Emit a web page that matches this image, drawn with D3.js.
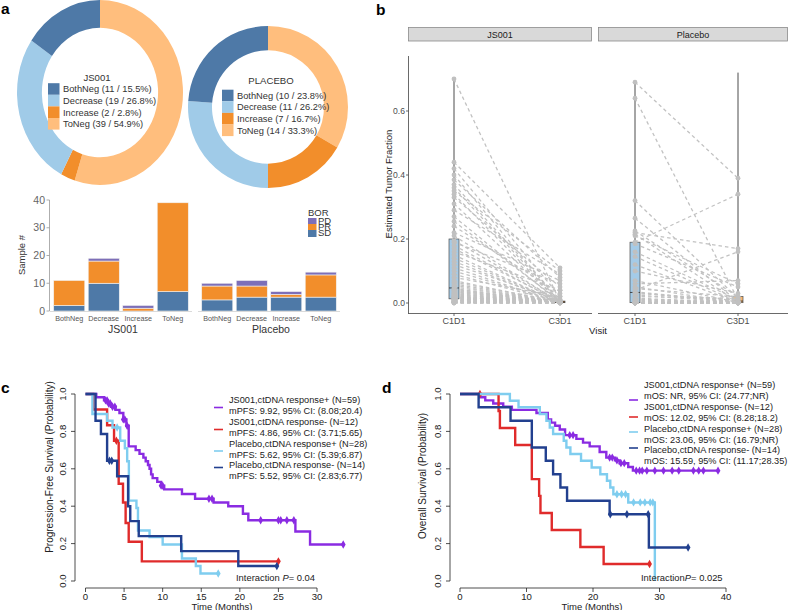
<!DOCTYPE html>
<html>
<head>
<meta charset="utf-8">
<script src="https://cdn.jsdelivr.net/npm/d3@7/dist/d3.min.js"></script>
<style>
html,body{margin:0;padding:0;background:#fff;}
svg{display:block;}
</style>
</head>
<body>
<svg id="fig" width="789" height="610"></svg>
<script>
// ================= DATA =================
// Panel a: donuts
const donutCategories = ["BothNeg","Decrease","Increase","ToNeg"];
const js001DonutCounts = [11,19,2,39];
const js001DonutPct = ["15.5%","26.8%","2.8%","54.9%"];
const placeboDonutCounts = [10,11,7,14];
const placeboDonutPct = ["23.8%","26.2%","16.7%","33.3%"];

// Panel a: stacked bars (BOR)
const barCategories = ["BothNeg","Decrease","Increase","ToNeg"];
const borKeys = ["SD","PR","PD"];
const js001SD = [2,10,0,7];
const js001PR = [9,8,1,32];
const js001PD = [0,1,1,0];
const placeboSD = [4,5,5,5];
const placeboPR = [5,4,1,8];
const placeboPD = [1,2,1,1];
const barYTicks = [0,10,20,30,40];
const barGroups = ["JS001","Placebo"];

// Panel b: paired tumor fraction
const visits = ["C1D1","C3D1"];
const js001C1D1 = [0.70,0.44,0.42,0.40,0.385,0.37,0.36,0.35,0.34,0.33,0.31,0.29,0.27,0.255,0.24,0.22,0.21,0.195,0.19,0.18,
  0.17,0.16,0.15,0.14,0.13,0.12,0.11,0.10,0.09,0.08,0.07,0.065,0.06,0.055,0.05,0.045,0.043,0.04,0.038,0.035,
  0.033,0.03,0.028,0.026,0.024,0.022,0.02,0.019,0.018,0.017,0.016,0.015,0.014,0.012,0.011,0.01,0.009,0.008,0.007,0.006,
  0.005,0.004,0.004,0.003,0.003,0.002,0.002,0.001,0.001,0.0,0.0];
const js001C3D1 = [0.005,0.11,0.02,0.003,0.08,0.01,0.004,0.10,0.002,0.05,0.003,0.09,0.001,0.006,0.03,0.07,0.002,0.004,0.06,0.002,
  0.005,0.04,0.001,0.003,0.002,0.008,0.001,0.003,0.002,0.02,0.001,0.004,0.002,0.001,0.003,0.002,0.001,0.003,0.002,0.001,
  0.004,0.002,0.001,0.003,0.002,0.001,0.004,0.002,0.001,0.003,0.002,0.001,0.002,0.001,0.003,0.002,0.001,0.002,0.001,0.001,
  0.04,0.002,0.001,0.001,0.002,0.001,0.0,0.0,0.0,0.0,0.012];
const placeboC1D1 = [0.69,0.64,0.32,0.265,0.225,0.22,0.215,0.21,0.19,0.185,0.16,0.145,0.12,0.10,0.07,0.06,0.05,0.045,0.04,0.035,
  0.033,0.03,0.025,0.02,0.015,0.012,0.01,0.008,0.005,0.003,0.002,0.001,0.001,0.0,0.0,0.0,0.0,0.0,0.0,0.0,0.0,0.0];
const placeboC3D1 = [0.39,0.01,0.015,0.005,0.02,0.17,0.003,0.06,0.34,0.05,0.01,0.004,0.002,0.03,0.002,0.07,0.001,0.02,0.16,0.003,
  0.001,0.01,0.002,0.015,0.001,0.003,0.0,0.002,0.001,0.0,0.005,0.0,0.002,0.0,0.001,0.0,0.01,0.0,0.002,0.0,0.001,0.0];
// box stats: [whisker low, q1, median, q3, whisker high]
const js001BoxC1D1 = [0,0.013,0.047,0.20,0.70];
const js001BoxC3D1 = [0,0.001,0.003,0.006,0.11];
const placeboBoxC1D1 = [0,0.001,0.033,0.19,0.69];
const placeboBoxC3D1 = [0,0.001,0.006,0.02,0.72];
const tfTicks = [0,0.2,0.4,0.6];

// Panel c: PFS Kaplan-Meier
const pfsJSposT = [0,1.4,2.4,2.9,3.3,3.9,4.4,4.9,5.3,5.6,6.5,7.0,7.5,7.8,8.1,8.3,8.5,8.7,9.3,9.8,10.2,12.5,14.2,16.6,18.5,20.4,21.1,27.2,29.1];
const pfsJSposS = [1,0.983,0.966,0.949,0.932,0.915,0.898,0.864,0.83,0.72,0.70,0.68,0.66,0.64,0.62,0.60,0.57,0.55,0.53,0.51,0.49,0.465,0.44,0.42,0.40,0.36,0.325,0.265,0.195];
const pfsJSposCens = [2.6,2.8,3.0,3.2,3.5,3.8,4.9,5.1,5.4,9.8,10.0,16.0,16.4,22.7,25.0,25.3,26.1,27.0,33.4];
const pfsJSposEnd = 33.4;
const pfsJSnegT = [0,1.0,2.8,3.7,4.3,4.86,5.2,5.6,7.3];
const pfsJSnegS = [1,0.917,0.833,0.75,0.52,0.42,0.31,0.21,0.105];
const pfsJSnegCens = [4.0,25.0];
const pfsJSnegEnd = 25.0;
const pfsPLposT = [0,0.9,2.8,3.5,4.5,5.1,5.4,5.62,6.6,6.8,8.3,10.0,12.5,14.3,14.9];
const pfsPLposS = [1,0.893,0.857,0.821,0.75,0.71,0.64,0.43,0.39,0.27,0.235,0.195,0.12,0.08,0.04];
const pfsPLposCens = [4.1,17.2];
const pfsPLposEnd = 17.2;
const pfsPLnegT = [0,1.3,2.0,2.8,4.1,5.52,5.8,6.9,12.4,19.8];
const pfsPLnegS = [1,0.857,0.786,0.643,0.56,0.40,0.32,0.24,0.16,0.08];
const pfsPLnegCens = [3.1,3.4,24.8];
const pfsPLnegEnd = 24.8;
const pfsXTicks = [0,5,10,15,20,25,30];
const pfsLegend = ["JS001,ctDNA response+ (N=59)","mPFS: 9.92, 95% CI: (8.08;20.4)",
  "JS001,ctDNA response- (N=12)","mPFS: 4.86, 95% CI: (3.71;5.65)",
  "Placebo,ctDNA response+ (N=28)","mPFS: 5.62, 95% CI: (5.39;6.87)",
  "Placebo,ctDNA response- (N=14)","mPFS: 5.52, 95% CI: (2.83;6.77)"];

// Panel d: OS Kaplan-Meier
const osJSposT = [0,3.0,3.8,5.0,6.5,7.8,11.5,13.2,13.7,14.3,15.0,15.8,17.5,18.5,19.5,21.0,22.0,23.3,24.0,25.3,26.0];
const osJSposS = [1,0.983,0.966,0.949,0.932,0.915,0.898,0.864,0.847,0.83,0.81,0.78,0.76,0.74,0.72,0.69,0.66,0.645,0.63,0.61,0.59];
const osJSposCens = [16.5,17.0,22.5,22.9,23.6,24.2,24.7,26.5,27.0,27.4,28.1,29.3,30.6,31.9,32.9,35.1,35.9,36.6,38.8];
const osJSposEnd = 38.8;
const osJSnegT = [0,5.8,6.0,8.3,10.8,11.9,12.1,13.8,18.1,21.6];
const osJSnegS = [1,0.909,0.818,0.727,0.545,0.455,0.364,0.273,0.182,0.091];
const osJSnegCens = [3.0,28.5];
const osJSnegEnd = 28.5;
const osPLposT = [0,7.5,8.8,12.0,13.0,13.5,14.0,15.6,16.0,16.6,18.2,19.8,21.1,22.1,22.6,23.06,25.3,29.3];
const osPLposS = [1,0.964,0.929,0.893,0.857,0.821,0.786,0.75,0.714,0.679,0.643,0.607,0.571,0.536,0.50,0.464,0.42,0.0];
const osPLposCens = [23.6,24.3,24.9,26.1,27.1,27.8,28.6,29.0];
const osPLposEnd = 29.3;
const osPLnegT = [0,2.8,7.6,10.8,12.9,14.0,15.1,16.1,22.5,28.4];
const osPLnegS = [1,0.929,0.857,0.714,0.643,0.571,0.50,0.429,0.357,0.179];
const osPLnegCens = [22.6,25.1,28.3,34.3];
const osPLnegEnd = 34.3;
const osXTicks = [0,10,20,30,40];
const osLegend = ["JS001,ctDNA response+ (N=59)","mOS: NR, 95% CI: (24.77;NR)",
  "JS001,ctDNA response- (N=12)","mOS: 12.02, 95% CI: (8.28;18.2)",
  "Placebo,ctDNA response+ (N=28)","mOS: 23.06, 95% CI: (16.79;NR)",
  "Placebo,ctDNA response- (N=14)","mOS: 15.59, 95% CI: (11.17;28.35)"];
const survTicks = [0,0.2,0.4,0.6,0.8,1.0];

// ================= DRAWING =================
const FONT = '"Liberation Sans", Arial, Helvetica, sans-serif';
const svg = d3.select("#fig").style("font-family", FONT);

[["a",1,14],["b",376,15],["c",1,393],["d",382,393]].forEach(([t,x,y])=>{
  svg.append("text").attr("x",x).attr("y",y).attr("font-size",15.5).attr("font-weight","bold").attr("fill","#000").text(t);
});

// ---------- Panel a: donuts ----------
const donutColors = {BothNeg:"#4e79a7",Decrease:"#a0cbe8",Increase:"#f28e2b",ToNeg:"#ffbe7d"};
function drawDonut(cx,cy,rx,ry,counts,pcts,title,titleX,titleY,legX,legY0){
  const order = [3,2,1,0]; // clockwise from top: ToNeg, Increase, Decrease, BothNeg
  const pie = d3.pie().sort(null).value(i=>counts[i]);
  const arc = d3.arc().innerRadius(70).outerRadius(100);
  const g = svg.append("g").attr("transform",`translate(${cx},${cy}) scale(${rx/100},${ry/100})`);
  g.selectAll("path").data(pie(order)).join("path")
    .attr("d",arc).attr("fill",d=>donutColors[donutCategories[d.data]]);
  svg.append("text").attr("x",titleX).attr("y",titleY).attr("text-anchor","middle")
    .attr("font-size",9.6).attr("fill","#333").text(title);
  donutCategories.forEach((c,i)=>{
    const yy = legY0 + i*11.6;
    svg.append("rect").attr("x",legX).attr("y",yy-5.8).attr("width",11.5).attr("height",11.6).attr("fill",donutColors[c]);
    svg.append("text").attr("x",legX+15).attr("y",yy+3.3).attr("font-size",9.3).attr("fill","#333")
      .text(`${c} (${counts[i]} / ${pcts[i]})`);
  });
}
drawDonut(100,92.5,83,92.5,js001DonutCounts,js001DonutPct,"JS001",97,80.5,48,89);
drawDonut(268,107,80,81,placeboDonutCounts,placeboDonutPct,"PLACEBO",271,83.5,222,95.5);

// ---------- Panel a: stacked bars ----------
const borColors = {SD:"#4e79a7",PR:"#f28e2b",PD:"#7d6fb8"};
const barY = d3.scaleLinear().domain([0,40]).range([311,200]);
const groupData = {
  JS001: barCategories.map((c,i)=>({cat:c,SD:js001SD[i],PR:js001PR[i],PD:js001PD[i]})),
  Placebo: barCategories.map((c,i)=>({cat:c,SD:placeboSD[i],PR:placeboPR[i],PD:placeboPD[i]}))
};
const groupRange = {JS001:[52,190],Placebo:[200,338]};
const stack = d3.stack().keys(borKeys);
barGroups.forEach(gname=>{
  const xb = d3.scaleBand().domain(barCategories).range(groupRange[gname]).paddingInner(0.1).paddingOuter(0.05);
  const series = stack(groupData[gname]);
  const gg = svg.append("g");
  series.forEach(s=>{
    gg.selectAll(null).data(s.filter(d=>d[1]>d[0])).join("rect")
      .attr("x",d=>xb(d.data.cat)).attr("width",xb.bandwidth())
      .attr("y",d=>barY(d[1])).attr("height",d=>barY(d[0])-barY(d[1]))
      .attr("fill",borColors[s.key]).attr("stroke","#f2f2f2").attr("stroke-width",0.6);
  });
  svg.append("line").attr("x1",groupRange[gname][0]-2).attr("x2",groupRange[gname][1]+2)
    .attr("y1",barY(0)+0.5).attr("y2",barY(0)+0.5).attr("stroke","#d0d0d0").attr("stroke-width",0.8);
  barCategories.forEach(c=>{
    svg.append("text").attr("x",xb(c)+xb.bandwidth()/2).attr("y",320.5).attr("text-anchor","middle")
      .attr("font-size",7.2).attr("fill","#555").text(c);
  });
  svg.append("text").attr("x",(groupRange[gname][0]+groupRange[gname][1])/2+2).attr("y",332.5)
    .attr("text-anchor","middle").attr("font-size",10.5).attr("fill","#333").text(gname);
});
svg.append("line").attr("x1",49.5).attr("x2",49.5).attr("y1",barY(40)).attr("y2",barY(0)).attr("stroke","#999").attr("stroke-width",0.8);
barYTicks.forEach(t=>{
  svg.append("line").attr("x1",46.5).attr("x2",49.5).attr("y1",barY(t)).attr("y2",barY(t)).attr("stroke","#999").attr("stroke-width",0.8);
  svg.append("text").attr("x",45).attr("y",barY(t)+3.6).attr("text-anchor","end").attr("font-size",10.5).attr("fill","#666").text(t);
});
svg.append("text").attr("transform","translate(25,255) rotate(-90)").attr("text-anchor","middle")
  .attr("font-size",9.5).attr("fill","#333").text("Sample #");
// BOR legend (cramped, as in the reference)
svg.append("text").attr("x",308).attr("y",215.5).attr("font-size",9.5).attr("fill","#333").text("BOR");
[["PD",218],["PR",224],["SD",230]].forEach(([k,yy])=>{
  svg.append("rect").attr("x",308).attr("y",yy).attr("width",8.5).attr("height",k==="SD"?7:6).attr("fill",borColors[k]);
  svg.append("text").attr("x",318).attr("y",yy+6.3).attr("font-size",9.5).attr("fill","#333").text(k);
});

// ---------- Panel b ----------
const tfY = d3.scaleLinear().domain([0,1]).range([303,-17]);
const facets = [
  {name:"JS001", x0:408, x1:592, xs:d3.scalePoint().domain(visits).range([454,560]),
   c1:js001C1D1, c3:js001C3D1, boxes:[js001BoxC1D1,js001BoxC3D1], fills:["#a4cbe8","#d6802e"]},
  {name:"Placebo", x0:598, x1:788, xs:d3.scalePoint().domain(visits).range([635,738]),
   c1:placeboC1D1, c3:placeboC3D1, boxes:[placeboBoxC1D1,placeboBoxC3D1], fills:["#a4cbe8","#fbb870"]}
];
facets.forEach(f=>{
  svg.append("rect").attr("x",f.x0+0.5).attr("y",27.5).attr("width",f.x1-f.x0-1).attr("height",13.5)
    .attr("fill","#d9d9d9").attr("stroke","#8a8a8a").attr("stroke-width",0.8);
  svg.append("text").attr("x",(f.x0+f.x1)/2).attr("y",37.5).attr("text-anchor","middle")
    .attr("font-size",9).attr("fill","#1a1a1a").text(f.name);
  svg.append("line").attr("x1",f.x0).attr("x2",f.x1).attr("y1",313.5).attr("y2",313.5).attr("stroke","#444").attr("stroke-width",0.8);
  visits.forEach(v=>{
    svg.append("line").attr("x1",f.xs(v)).attr("x2",f.xs(v)).attr("y1",313.5).attr("y2",316).attr("stroke","#444").attr("stroke-width",0.8);
    svg.append("text").attr("x",f.xs(v)).attr("y",324).attr("text-anchor","middle").attr("font-size",9).attr("fill","#4d4d4d").text(v);
  });
  visits.forEach((v,i)=>{
    const b = f.boxes[i], cx = f.xs(v);
    svg.append("line").attr("x1",cx).attr("x2",cx).attr("y1",tfY(b[0])).attr("y2",tfY(b[4])).attr("stroke","#4d4d4d").attr("stroke-width",1);
    svg.append("rect").attr("x",cx-5).attr("width",10).attr("y",tfY(b[3])).attr("height",Math.max(0.8,tfY(b[1])-tfY(b[3])))
      .attr("fill",f.fills[i]).attr("stroke","#4d4d4d").attr("stroke-width",0.7);
    svg.append("line").attr("x1",cx-5).attr("x2",cx+5).attr("y1",tfY(b[2])).attr("y2",tfY(b[2])).attr("stroke","#333").attr("stroke-width",0.9);
  });
  svg.append("g").selectAll("line").data(d3.range(f.c1.length)).join("line")
    .attr("x1",f.xs("C1D1")).attr("y1",i=>tfY(f.c1[i])).attr("x2",f.xs("C3D1")).attr("y2",i=>tfY(f.c3[i]))
    .attr("stroke","#c2c2c2").attr("stroke-width",1.3).attr("stroke-dasharray","3.5,3");
  const pts = f.c1.map(v=>[f.xs("C1D1"),v]).concat(f.c3.map(v=>[f.xs("C3D1"),v]));
  svg.append("g").selectAll("circle").data(pts).join("circle")
    .attr("cx",d=>d[0]).attr("cy",d=>tfY(d[1])).attr("r",2.4).attr("fill","#c0c0c0");
});
svg.append("line").attr("x1",408.5).attr("x2",408.5).attr("y1",56).attr("y2",313.5).attr("stroke","#444").attr("stroke-width",0.8);
tfTicks.forEach(t=>{
  svg.append("line").attr("x1",406).attr("x2",408.5).attr("y1",tfY(t)).attr("y2",tfY(t)).attr("stroke","#444").attr("stroke-width",0.8);
  svg.append("text").attr("x",405).attr("y",tfY(t)+3).attr("text-anchor","end").attr("font-size",8.6).attr("fill","#4d4d4d").text(t.toFixed(1));
});
svg.append("text").attr("transform","translate(392,184) rotate(-90)").attr("text-anchor","middle")
  .attr("font-size",9.5).attr("fill","#1a1a1a").text("Estimated Tumor Fraction");
svg.append("text").attr("x",598).attr("y",334).attr("text-anchor","middle").attr("font-size",9.5).attr("fill","#1a1a1a").text("Visit");

// ---------- Panels c & d ----------
const kmColors = ["#8a2be2","#e02b2b","#7fcdef","#22408f"];
function stepAt(T,S,t){ let v=S[0]; for(let i=0;i<T.length;i++){ if(T[i]<=t) v=S[i]; } return v; }
function kmPanel(cfg){
  const x = d3.scaleLinear().domain(cfg.xDomain).range(cfg.xRange);
  const y = d3.scaleLinear().domain([0,1]).range([581,394]);
  const line = d3.line().x(d=>x(d[0])).y(d=>y(d[1])).curve(d3.curveStepAfter);
  cfg.series.forEach((s,k)=>{
    const pts = s.T.map((t,i)=>[t,s.S[i]]);
    pts.push([s.end, s.S[s.S.length-1]]);
    svg.append("path").attr("d",line(pts)).attr("fill","none").attr("stroke",kmColors[k]).attr("stroke-width",2.4);
    svg.append("g").selectAll("path").data(s.C).join("path")
      .attr("transform",t=>`translate(${x(t)},${y(stepAt(s.T,s.S,t))})`)
      .attr("d",d3.symbol().type(d3.symbolDiamond).size(20)).attr("fill",kmColors[k]);
  });
  const ax = cfg.yAxisX, ay = 588;
  svg.append("line").attr("x1",ax).attr("x2",ax).attr("y1",y(1)).attr("y2",y(0)).attr("stroke","#222").attr("stroke-width",0.8);
  survTicks.forEach(t=>{
    svg.append("line").attr("x1",ax-4).attr("x2",ax).attr("y1",y(t)).attr("y2",y(t)).attr("stroke","#222").attr("stroke-width",0.8);
    svg.append("text").attr("transform",`translate(${ax-9},${y(t)}) rotate(-90)`).attr("text-anchor","middle")
      .attr("font-size",9.6).attr("fill","#222").text(t.toFixed(1));
  });
  const tks = cfg.xTicks;
  svg.append("line").attr("x1",x(tks[0])).attr("x2",x(tks[tks.length-1])).attr("y1",ay).attr("y2",ay).attr("stroke","#222").attr("stroke-width",0.8);
  tks.forEach(t=>{
    svg.append("line").attr("x1",x(t)).attr("x2",x(t)).attr("y1",ay).attr("y2",ay+4).attr("stroke","#222").attr("stroke-width",0.8);
    svg.append("text").attr("x",x(t)).attr("y",600).attr("text-anchor","middle").attr("font-size",9.6).attr("fill","#222").text(t);
  });
  svg.append("text").attr("x",cfg.xlabX).attr("y",609.5).attr("text-anchor","middle").attr("font-size",9.5).attr("fill","#222").text("Time (Months)");
  svg.append("text").attr("transform",`translate(${cfg.ylab[0]},${cfg.ylab[1]}) rotate(-90)`).attr("text-anchor","middle")
    .attr("font-size",10).attr("fill","#222").text(cfg.ylabText);
  cfg.legend.forEach((t,i)=>{
    svg.append("text").attr("x",cfg.legX).attr("y",cfg.legY0+i*10.85+3.3).attr("font-size",9.2).attr("fill","#222").text(t);
  });
  cfg.swatchY.forEach((yy,k)=>{
    svg.append("line").attr("x1",cfg.legX-15).attr("x2",cfg.legX-6).attr("y1",yy).attr("y2",yy).attr("stroke",kmColors[k]).attr("stroke-width",1.6);
  });
  const it = svg.append("text").attr("x",cfg.intX).attr("y",580.5).attr("font-size",9.4).attr("fill","#222");
  it.append("tspan").text(cfg.intParts[0]);
  it.append("tspan").attr("font-style","italic").text("P");
  it.append("tspan").text(cfg.intParts[1]);
}
kmPanel({
  xDomain:[0,30], xRange:[85.5,317], xTicks:pfsXTicks, yAxisX:75, xlabX:222,
  ylab:[53,467], ylabText:"Progression-Free Survival (Probability)",
  series:[
    {T:pfsJSposT,S:pfsJSposS,C:pfsJSposCens,end:pfsJSposEnd},
    {T:pfsJSnegT,S:pfsJSnegS,C:pfsJSnegCens,end:pfsJSnegEnd},
    {T:pfsPLposT,S:pfsPLposS,C:pfsPLposCens,end:pfsPLposEnd},
    {T:pfsPLnegT,S:pfsPLnegS,C:pfsPLnegCens,end:pfsPLnegEnd}],
  legend:pfsLegend, legX:229, legY0:400, swatchY:[407.5,429.5,451,467.5],
  intX:236, intParts:["Interaction  ","= 0.04"]
});
kmPanel({
  xDomain:[0,40], xRange:[460,726], xTicks:osXTicks, yAxisX:450, xlabX:592,
  ylab:[426,476], ylabText:"Overall Survival (Probability)",
  series:[
    {T:osJSposT,S:osJSposS,C:osJSposCens,end:osJSposEnd},
    {T:osJSnegT,S:osJSnegS,C:osJSnegCens,end:osJSnegEnd},
    {T:osPLposT,S:osPLposS,C:osPLposCens,end:osPLposEnd},
    {T:osPLnegT,S:osPLnegS,C:osPLnegCens,end:osPLnegEnd}],
  legend:osLegend, legX:644, legY0:385, swatchY:[400,417,432,448],
  intX:641, intParts:["Interaction","= 0.025"]
});
</script>
</body>
</html>
